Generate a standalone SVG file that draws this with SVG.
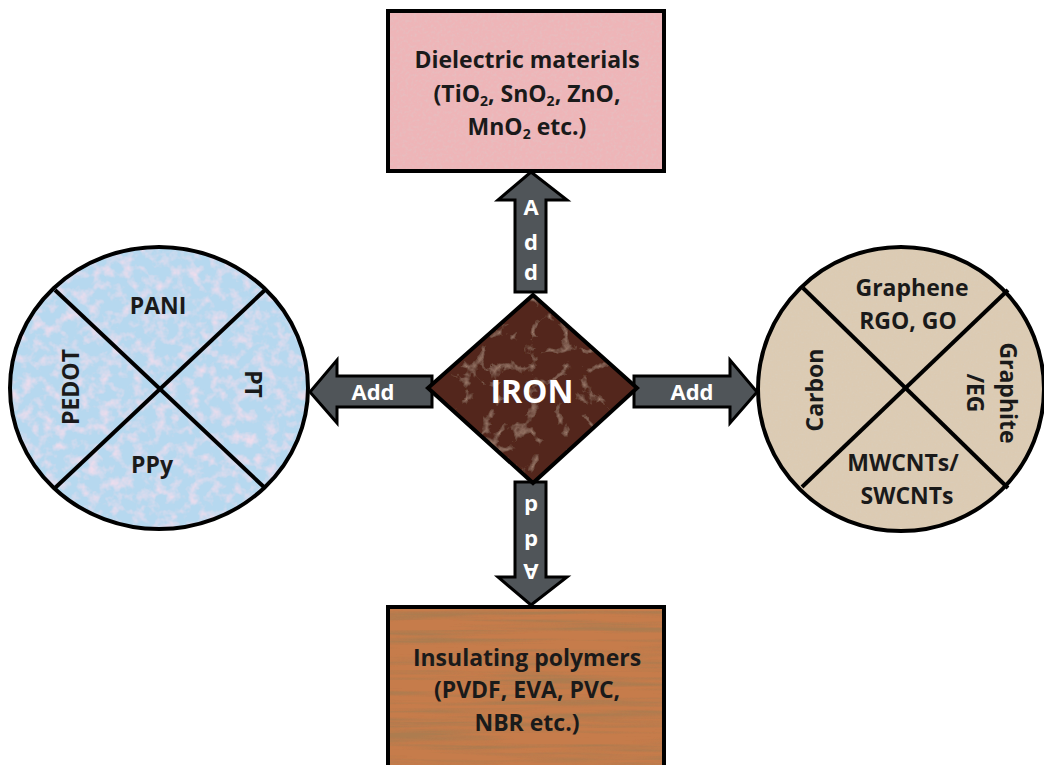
<svg xmlns="http://www.w3.org/2000/svg" width="1044" height="765" viewBox="0 0 1044 765">
<defs>
<style>
.lbl{font-family:"Open Sans","Liberation Sans",sans-serif;font-weight:700;fill:#1a1a1a;text-anchor:middle}
.wt{font-family:"Open Sans","Liberation Sans",sans-serif;font-weight:700;fill:#ffffff;text-anchor:middle}
.out{fill:none;stroke:#000;stroke-width:4}
.arr{fill:#505559;stroke:#000;stroke-width:3;stroke-linejoin:miter}
.cross{stroke:#000;stroke-width:4}
.sub{font-size:14px}
</style>
<filter id="fPink" x="0" y="0" width="100%" height="100%">
<feTurbulence type="fractalNoise" baseFrequency="0.35" numOctaves="2" seed="2" result="t"/>
<feColorMatrix in="t" type="matrix" values="0 0 0 0 0.75  0 0 0 0 0.55  0 0 0 0 0.56  1.4 0 0 0 -0.62" result="d"/>
<feComposite in="d" in2="SourceGraphic" operator="in" result="dd"/>
<feMerge><feMergeNode in="SourceGraphic"/><feMergeNode in="dd"/></feMerge>
</filter>
<filter id="fWood" x="0" y="0" width="100%" height="100%">
<feTurbulence type="fractalNoise" baseFrequency="0.006 0.18" numOctaves="3" seed="5" result="t"/>
<feColorMatrix in="t" type="matrix" values="0 0 0 0 0.42  0 0 0 0 0.2  0 0 0 0 0.08  3 0 0 0 -1.25" result="d"/>
<feComposite in="d" in2="SourceGraphic" operator="in" result="dd"/>
<feMerge><feMergeNode in="SourceGraphic"/><feMergeNode in="dd"/></feMerge>
</filter>
<filter id="fBlue" x="0" y="0" width="100%" height="100%">
<feTurbulence type="fractalNoise" baseFrequency="0.09" numOctaves="3" seed="7" result="t"/>
<feColorMatrix in="t" type="matrix" values="0 0 0 0 0.85  0 0 0 0 0.72  0 0 0 0 0.84  2.4 0 0 0 -1.05" result="d"/>
<feComposite in="d" in2="SourceGraphic" operator="in" result="dd"/>
<feMerge><feMergeNode in="SourceGraphic"/><feMergeNode in="dd"/></feMerge>
</filter>
<filter id="fBeige" x="0" y="0" width="100%" height="100%">
<feTurbulence type="fractalNoise" baseFrequency="0.5" numOctaves="2" seed="3" result="t"/>
<feColorMatrix in="t" type="matrix" values="0 0 0 0 0.7  0 0 0 0 0.62  0 0 0 0 0.5  1.4 0 0 0 -0.6" result="d"/>
<feComposite in="d" in2="SourceGraphic" operator="in" result="dd"/>
<feMerge><feMergeNode in="SourceGraphic"/><feMergeNode in="dd"/></feMerge>
</filter>
<filter id="fMarble" x="0" y="0" width="100%" height="100%">
<feTurbulence type="turbulence" baseFrequency="0.03" numOctaves="4" seed="9" result="t"/>
<feColorMatrix in="t" type="matrix" values="0 0 0 0 0.62  0 0 0 0 0.4  0 0 0 0 0.3  -2 0 0 0 0.45" result="d"/>
<feComposite in="d" in2="SourceGraphic" operator="in" result="dd"/>
<feMerge><feMergeNode in="SourceGraphic"/><feMergeNode in="dd"/></feMerge>
</filter>
</defs>
<rect width="1044" height="765" fill="#ffffff"/>

<g id="connectors">
<polygon class="arr" points="531,172 567,200 546,200 546,292 515,292 515,200 498,200"/>
<polygon class="arr" points="310,392 337,360 337,376 432,376 432,407 337,407 337,423"/>
<polygon class="arr" points="757,392 730,360 730,376 634,376 634,407 730,407 730,423"/>
<polygon class="arr" points="531,605 567,577 546,577 546,482 515,482 515,577 498,577"/>
<text class="wt" font-size="22" x="531" y="215">A</text>
<text class="wt" font-size="22" x="531" y="250">d</text>
<text class="wt" font-size="22" x="531" y="280">d</text>
<text class="wt" font-size="22" x="373" y="400">Add</text>
<text class="wt" font-size="22" x="692" y="400">Add</text>
<text class="wt" font-size="22" transform="translate(531,499) rotate(180)">d</text>
<text class="wt" font-size="22" transform="translate(531,534) rotate(180)">d</text>
<text class="wt" font-size="22" transform="translate(531,564) rotate(180)">A</text>
</g>

<g id="node-dielectric">
<rect x="388" y="11" width="276" height="160" fill="#eeb5b8" filter="url(#fPink)"/>
<rect class="out" x="388" y="11" width="276" height="160"/>
<text class="lbl" font-size="23" x="527" y="68">Dielectric materials</text>
<text class="lbl" font-size="23" x="527" y="102">(TiO<tspan class="sub" dy="4">2</tspan><tspan dy="-4">, SnO</tspan><tspan class="sub" dy="4">2</tspan><tspan dy="-4">, ZnO,</tspan></text>
<text class="lbl" font-size="23" x="527" y="135">MnO<tspan class="sub" dy="4">2</tspan><tspan dy="-4"> etc.)</tspan></text>
</g>

<g id="node-insulating">
<rect x="388" y="607" width="276" height="170" fill="#c67b4b" filter="url(#fWood)"/>
<rect class="out" x="388" y="607" width="276" height="170"/>
<text class="lbl" font-size="23" x="527" y="666">Insulating polymers</text>
<text class="lbl" font-size="23" x="527" y="698">(PVDF, EVA, PVC,</text>
<text class="lbl" font-size="23" x="527" y="731">NBR etc.)</text>
</g>

<g id="node-conducting">
<ellipse cx="159" cy="388" rx="149" ry="141" fill="#b6d8ef" filter="url(#fBlue)"/>
<line class="cross" x1="55" y1="290" x2="265" y2="488"/>
<line class="cross" x1="265" y1="290" x2="55" y2="488"/>
<ellipse class="out" cx="159" cy="388" rx="149" ry="141"/>
<text class="lbl" font-size="23" x="158" y="314">PANI</text>
<text class="lbl" font-size="23" x="152" y="473">PPy</text>
<text class="lbl" font-size="23" transform="translate(79,387) rotate(-90)">PEDOT</text>
<text class="lbl" font-size="23" transform="translate(245,384) rotate(90)">PT</text>
</g>

<g id="node-carbon">
<ellipse cx="901" cy="389" rx="143" ry="142" fill="#dccbb3" filter="url(#fBeige)"/>
<line class="cross" x1="803" y1="288" x2="1008" y2="488"/>
<line class="cross" x1="1008" y1="290" x2="802" y2="487"/>
<ellipse class="out" cx="901" cy="389" rx="143" ry="142"/>
<text class="lbl" font-size="23" x="912" y="296">Graphene</text>
<text class="lbl" font-size="23" x="908" y="329">RGO, GO</text>
<text class="lbl" font-size="23" transform="translate(823,390) rotate(-90)">Carbon</text>
<text class="lbl" font-size="23" transform="translate(1000,393) rotate(90)">Graphite</text>
<text class="lbl" font-size="23" transform="translate(967,393) rotate(90)">/EG</text>
<text class="lbl" font-size="23" x="903" y="471">MWCNTs/</text>
<text class="lbl" font-size="23" x="907" y="504">SWCNTs</text>
</g>

<g id="node-iron">
<polygon points="533,295 637,388 533,483 428,388" fill="#52281a" filter="url(#fMarble)"/>
<polygon points="533,295 637,388 533,483 428,388" fill="none" stroke="#000" stroke-width="4" stroke-linejoin="miter"/>
<text class="wt" font-size="32" x="532" y="403">IRON</text>
</g>
</svg>
